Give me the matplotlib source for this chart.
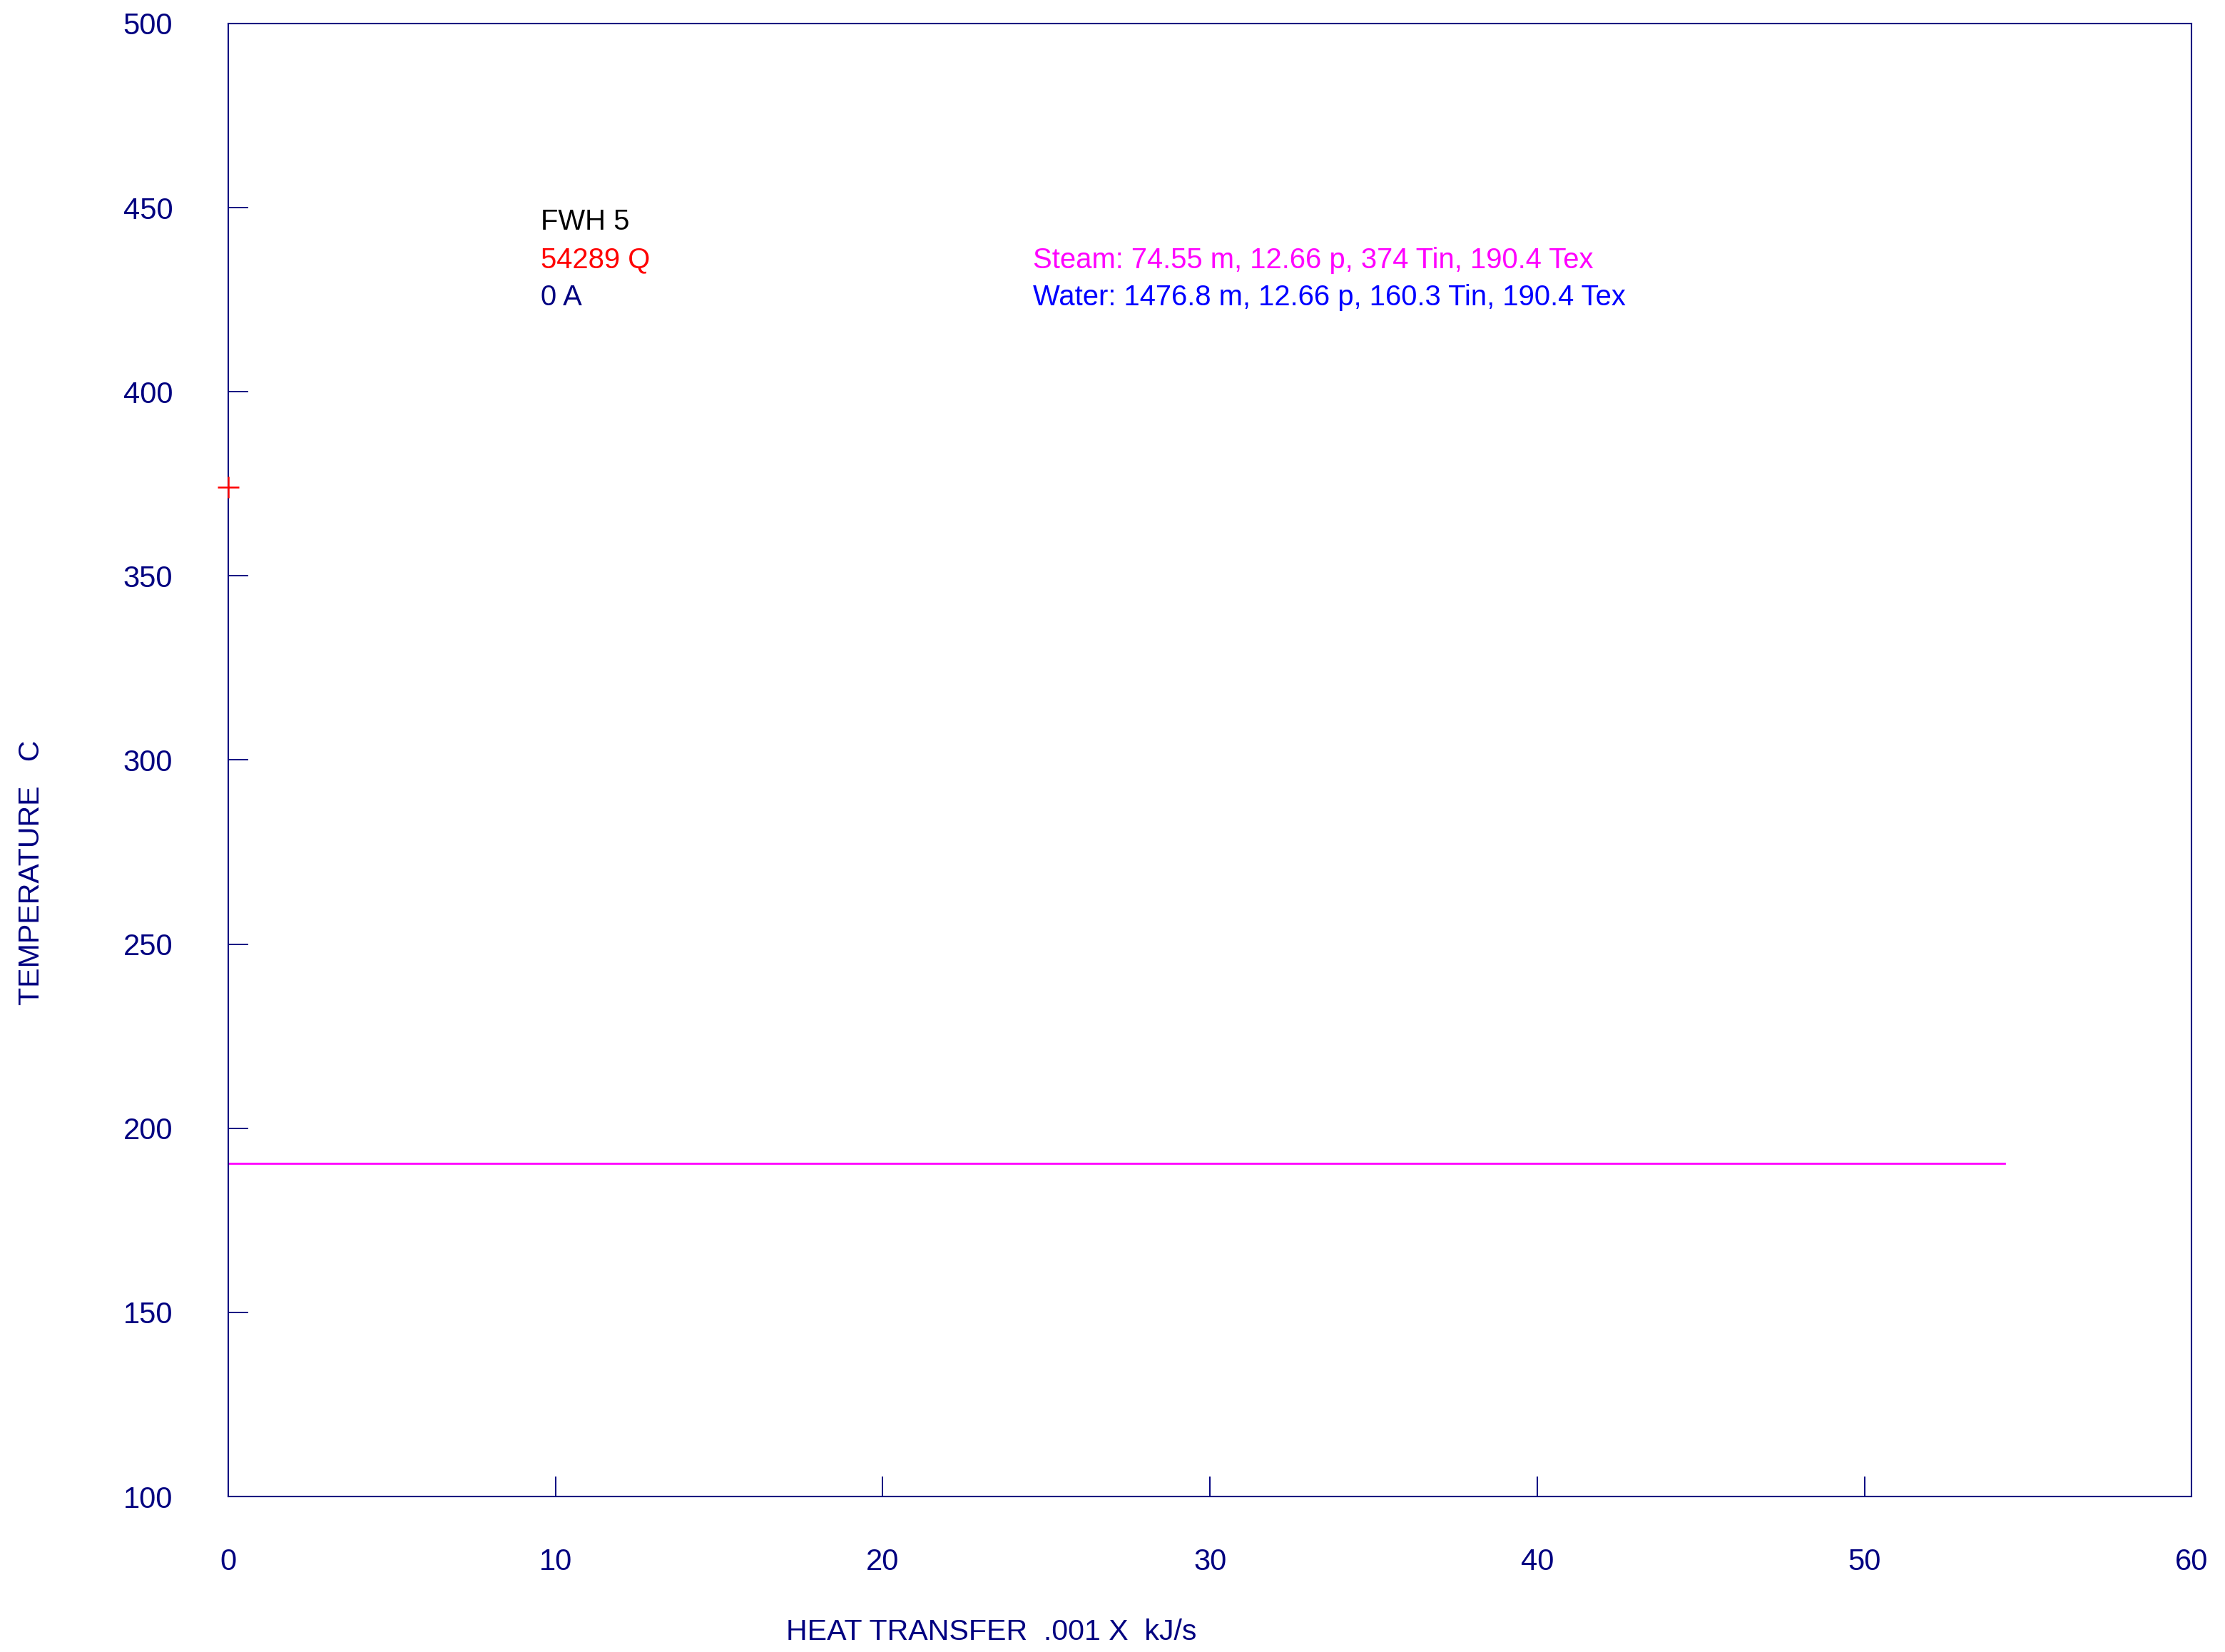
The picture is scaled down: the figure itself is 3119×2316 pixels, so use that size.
import numpy as np
import matplotlib
matplotlib.use("Agg")
import matplotlib.pyplot as plt

plt.rcParams['font.family'] = ['Liberation Sans', 'DejaVu Sans']

# data
q_total = 54.289          # .001 X kJ/s
steam_tin = 374.0
steam_tex = 190.4
line_x = [0.0, q_total]
line_y = [steam_tex, steam_tex]
marker_x = [0.0]
marker_y = [steam_tin]
x_ticks = [0, 10, 20, 30, 40, 50, 60]
y_ticks = [100, 150, 200, 250, 300, 350, 400, 450, 500]

navy = '#000080'

fig = plt.figure(figsize=(15.595, 11.58), dpi=200)
ax = fig.add_axes([0.1026, 0.0941, 0.8824, 0.8917])

ax.plot(line_x, line_y, color='#ff00ff', lw=1.0)
ax.plot(marker_x, marker_y, '+', color='red', ms=10.5, mew=0.9,
        clip_on=False, zorder=5)

ax.set_xlim(0, 60)
ax.set_ylim(100, 500)
ax.set_xticks(x_ticks)
ax.set_yticks(y_ticks)
ax.tick_params(direction='in', length=10, width=0.7, color=navy,
               labelcolor=navy, labelsize=15)
ax.tick_params(axis='y', pad=28)
ax.tick_params(axis='x', pad=26)
for s in ax.spines.values():
    s.set_color(navy)
    s.set_linewidth(0.75)

# annotations
fs = 14.4
ax.text(9.55, 444.0, 'FWH 5', color='black', fontsize=fs, va='baseline')
ax.text(9.55, 433.6, '54289 Q', color='red', fontsize=fs, va='baseline')
ax.text(9.55, 423.5, '0 A', color=navy, fontsize=fs, va='baseline')
ax.text(24.6, 433.6, 'Steam: 74.55 m, 12.66 p, 374 Tin, 190.4 Tex',
        color='#ff00ff', fontsize=fs, va='baseline')
ax.text(24.6, 423.5, 'Water: 1476.8 m, 12.66 p, 160.3 Tin, 190.4 Tex',
        color='#0000ff', fontsize=fs, va='baseline')

fig.text(1390 / 3119, 1 - 2288 / 2316, 'HEAT TRANSFER  .001 X  kJ/s',
         color=navy, fontsize=14.8, ha='center', va='center')
fig.text(44 / 3119, 1 - 1223 / 2316, 'TEMPERATURE   C', color=navy,
         fontsize=14.8, rotation=90, ha='center', va='center')

fig.savefig('out.png', dpi=200)
